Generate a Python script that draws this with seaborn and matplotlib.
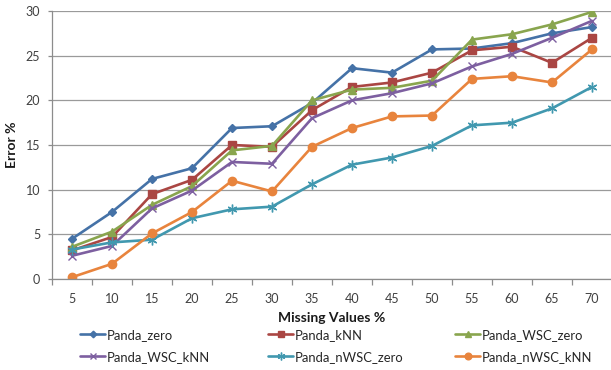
import matplotlib
matplotlib.use("Agg")
import matplotlib.pyplot as plt
import seaborn as sns
import pandas as pd
from matplotlib.ticker import MultipleLocator, FixedLocator

# Percentage of missing values (x categories)
missing_pct = [5, 10, 15, 20, 25, 30, 35, 40, 45, 50, 55, 60, 65, 70]

# Error % for each imputation method
panda_zero = [4.5, 7.5, 11.2, 12.4, 16.9, 17.1, 19.7, 23.6, 23.1, 25.7, 25.8, 26.4, 27.5, 28.2]
panda_knn = [3.2, 4.7, 9.5, 11.1, 15.0, 14.8, 18.9, 21.5, 22.0, 23.1, 25.6, 26.0, 24.2, 27.0]
panda_wsc_zero = [3.6, 5.3, 8.3, 10.4, 14.4, 14.9, 20.0, 21.2, 21.4, 22.2, 26.8, 27.4, 28.5, 29.9]
panda_wsc_knn = [2.6, 3.7, 7.9, 9.9, 13.1, 12.9, 18.0, 20.0, 20.8, 21.9, 23.8, 25.2, 27.0, 28.9]
panda_nwsc_zero = [3.3, 4.1, 4.4, 6.8, 7.8, 8.1, 10.6, 12.8, 13.6, 14.9, 17.2, 17.5, 19.1, 21.5]
panda_nwsc_knn = [0.2, 1.7, 5.1, 7.5, 11.0, 9.8, 14.8, 16.9, 18.2, 18.3, 22.4, 22.7, 22.0, 25.7]

series_names = ["Panda_zero", "Panda_kNN", "Panda_WSC_zero",
                "Panda_WSC_kNN", "Panda_nWSC_zero", "Panda_nWSC_kNN"]
series_values = [panda_zero, panda_knn, panda_wsc_zero,
                 panda_wsc_knn, panda_nwsc_zero, panda_nwsc_knn]

colors = ["#4572A7", "#AA4643", "#89A54E", "#7D5FA0", "#4198AF", "#E8843D"]
markers = ["D", "s", "^", "x", (6, 2, 0), "o"]
msizes = [4.2, 6.0, 6.2, 6.0, 7.0, 6.0]

sns.set_theme(style="white")
plt.rcParams["font.family"] = ["Lato", "DejaVu Sans"]

fig = plt.figure(figsize=(6.11, 3.70), dpi=100)
ax = fig.add_axes([52 / 611, 1 - 279 / 370, 560 / 611, 268 / 370])

handles = []
for name, vals, col, mk, ms in zip(series_names, series_values, colors, markers, msizes):
    df = pd.DataFrame({"Missing Values %": missing_pct, "Error %": vals})
    sns.lineplot(data=df, x="Missing Values %", y="Error %", ax=ax, color=col,
                 marker=mk, markersize=ms, markeredgecolor=col,
                 markerfacecolor=col, markeredgewidth=1.0,
                 linewidth=1.9, label=name, legend=False)
    handles.append(ax.get_lines()[-1])

ax.set_xlim(2.5, 72.5)
ax.set_ylim(0, 30)
ax.xaxis.set_major_locator(FixedLocator(missing_pct))
ax.xaxis.set_minor_locator(MultipleLocator(5, offset=2.5))
ax.yaxis.set_major_locator(MultipleLocator(5))

ax.grid(axis="y", color="#9A9A9A", linewidth=0.9)
ax.grid(axis="x", visible=False)
ax.set_axisbelow(True)

for side in ["top", "right"]:
    ax.spines[side].set_visible(False)
for side in ["left", "bottom"]:
    ax.spines[side].set_color("#8C8C8C")
    ax.spines[side].set_linewidth(0.9)

ax.tick_params(axis="y", which="major", left=True, length=3, width=0.9,
               color="#8C8C8C", pad=5.5, labelsize=9, labelcolor="#404040")
ax.tick_params(axis="x", which="major", bottom=False, length=0, pad=10,
               labelsize=9, labelcolor="#404040")
ax.tick_params(axis="x", which="minor", bottom=True, length=4, width=0.9,
               color="#8C8C8C")

ax.set_xlabel("Missing Values %", fontsize=10, fontweight="bold", color="#1a1a1a")
ax.set_ylabel("Error %", fontsize=10, fontweight="bold", color="#1a1a1a")
ax.xaxis.set_label_coords(0.5, -0.122)
ax.yaxis.set_label_coords(-0.060, 0.5)

# Legend laid out as three columns of two entries each
columns = [(0, 3), (1, 4), (2, 5)]
col_x = [80, 268, 455]
for (a, b), x in zip(columns, col_x):
    fig.legend(handles=[handles[a], handles[b]],
               labels=[series_names[a], series_names[b]],
               loc="upper left", bbox_to_anchor=(x / 611, 1 - 329 / 370),
               frameon=False, fontsize=9.4, handlelength=1.95,
               handletextpad=0.12, labelspacing=0.75, borderpad=0,
               borderaxespad=0, numpoints=1, markerscale=0.8)

fig.savefig("out.png", dpi=100)
